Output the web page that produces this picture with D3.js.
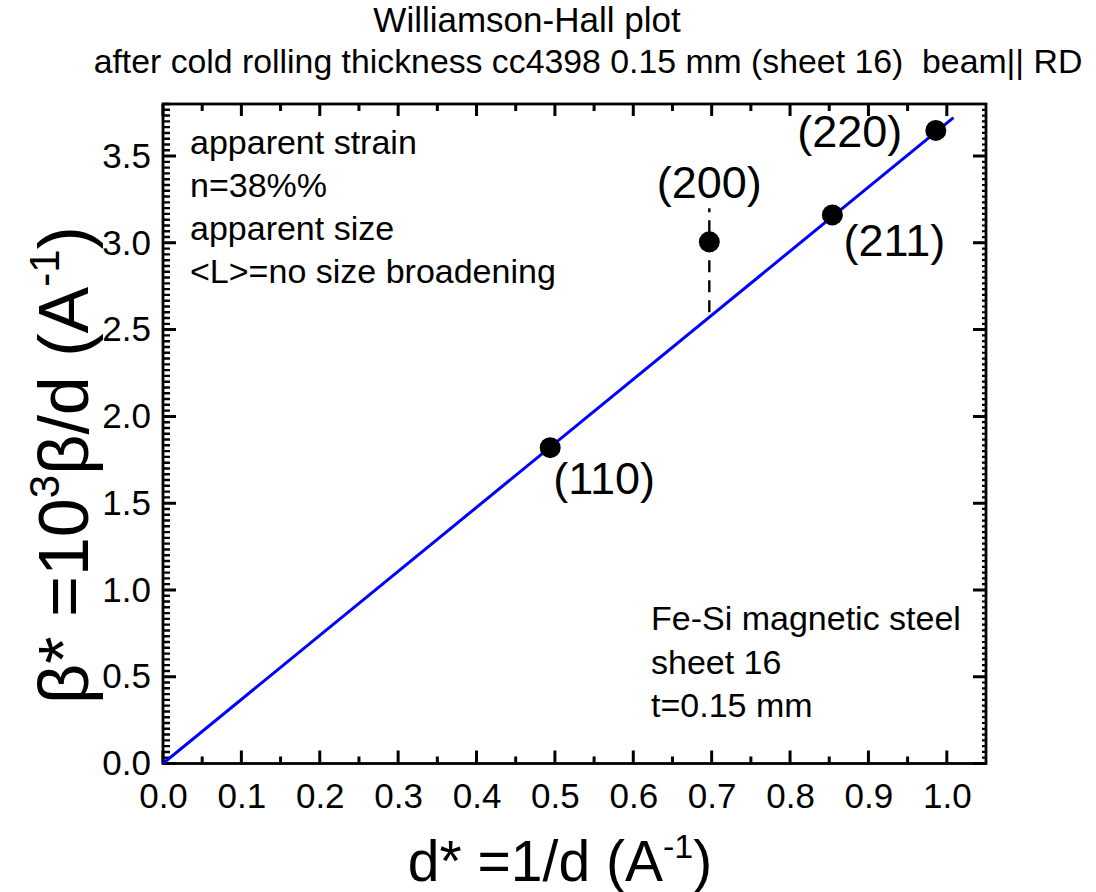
<!DOCTYPE html>
<html>
<head>
<meta charset="utf-8">
<script src="https://cdn.jsdelivr.net/npm/d3@7/dist/d3.min.js"></script>
<style>
  html, body { margin: 0; padding: 0; background: #fff; }
  svg { display: block; font-family: "Liberation Sans", Arial, sans-serif; }
</style>
</head>
<body>
<svg id="chart" width="1096" height="892"></svg>
<script>
// Williamson-Hall data: reflections, d* = 1/d and beta* = 10^3 beta/d
const reflections = ["(110)", "(200)", "(211)", "(220)"];
const dStar = [0.494, 0.697, 0.854, 0.986];
const betaStar = [1.820, 3.006, 3.161, 3.648];

// dashed bar on the (200) reflection
const bar200 = [2.60, 3.20];

// linear fit through the origin
const fitSlope = 3.69;
const fitRange = [0, 1.0085];

// axis ticks
const xTicks = [0.0, 0.1, 0.2, 0.3, 0.4, 0.5, 0.6, 0.7, 0.8, 0.9, 1.0];
const yTicks = [0.0, 0.5, 1.0, 1.5, 2.0, 2.5, 3.0, 3.5];

const titleLines = [
  "Williamson-Hall plot",
  "after cold rolling thickness cc4398 0.15 mm (sheet 16)  beam|| RD"
];
const noteLeft = ["apparent strain", "n=38%%", "apparent size", "<L>=no size broadening"];
const noteRight = ["Fe-Si magnetic steel", "sheet 16", "t=0.15 mm"];

const svg = d3.select("#chart");
const L = 163, R = 986, T = 104, B = 763.5;

const x = d3.scaleLinear().domain([0, 1.05]).range([L, R]);
const y = d3.scaleLinear().domain([0, 3.8]).range([B, T]);

// titles
svg.append("text").attr("x", 527).attr("y", 32).attr("text-anchor", "middle")
  .attr("font-size", 35).text(titleLines[0]);
svg.append("text").attr("x", 588).attr("y", 73).attr("text-anchor", "middle")
  .attr("font-size", 33.8).style("white-space", "pre").text(titleLines[1]);

// minor tick positions
const xMinor = d3.range(0.05, 1.05, 0.1);
const yMinor = d3.range(0, 3.8001, 0.5 / 15).filter(v => Math.abs(v * 2 - Math.round(v * 2)) > 1e-6);

// tick labels via d3 axes
function labelsOnly(g) {
  g.select(".domain").remove();
  g.selectAll(".tick line").remove();
  g.selectAll(".tick text").attr("fill", "#000").attr("font-size", 35)
    .attr("font-family", "Liberation Sans, Arial, sans-serif");
}
svg.append("g").attr("transform", `translate(0,${B})`)
  .call(d3.axisBottom(x).tickValues(xTicks).tickSize(0).tickPadding(20).tickFormat(d3.format(".1f")))
  .call(labelsOnly);
svg.append("g").attr("transform", `translate(${L},0)`)
  .call(d3.axisLeft(y).tickValues(yTicks).tickSize(0).tickPadding(12).tickFormat(d3.format(".1f")))
  .call(labelsOnly);

// inward tick marks on all four sides, each set as one path
function tickPath(vals, horizontal, base, len) {
  const p = d3.path();
  vals.forEach(v => {
    if (horizontal) { p.moveTo(x(v), base); p.lineTo(x(v), base + len); }
    else { p.moveTo(base, y(v)); p.lineTo(base + len, y(v)); }
  });
  return p.toString();
}
const tickSpecs = [
  [xTicks, true, B, -13, 3], [xMinor, true, B, -7, 3],
  [xTicks, true, T, 12, 3], [xMinor, true, T, 7, 3],
  [yTicks, false, L, 13, 3], [yMinor, false, L, 7, 2.4],
  [yTicks, false, R, -13, 3], [yMinor, false, R, -4, 2.2]
];
svg.append("g").selectAll("path").data(tickSpecs).join("path")
  .attr("d", s => tickPath(s[0], s[1], s[2], s[3]))
  .attr("fill", "none").attr("stroke", "#000").attr("stroke-width", s => s[4]);

// frame
svg.append("rect").attr("x", L).attr("y", T).attr("width", R - L).attr("height", B - T)
  .attr("fill", "none").attr("stroke", "#000").attr("stroke-width", 2.8);

// fit line
svg.append("line")
  .attr("x1", x(fitRange[0])).attr("y1", y(fitRange[0] * fitSlope))
  .attr("x2", x(fitRange[1])).attr("y2", y(fitRange[1] * fitSlope))
  .attr("stroke", "#0000ff").attr("stroke-width", 3);

// dashed bar on (200)
svg.append("line")
  .attr("x1", x(dStar[1])).attr("x2", x(dStar[1]))
  .attr("y1", y(bar200[0])).attr("y2", y(bar200[1]))
  .attr("stroke", "#000").attr("stroke-width", 2.4).attr("stroke-dasharray", "12,8");

// data points
svg.append("g").selectAll("circle").data(reflections).join("circle")
  .attr("cx", (d, i) => x(dStar[i])).attr("cy", (d, i) => y(betaStar[i]))
  .attr("r", 10.5).attr("fill", "#000");

// reflection labels
const labelOffsets = [[54, 46], [0, -44], [62, 41], [-86, 17]];
svg.append("g").selectAll("text").data(reflections).join("text")
  .attr("x", (d, i) => x(dStar[i]) + labelOffsets[i][0])
  .attr("y", (d, i) => y(betaStar[i]) + labelOffsets[i][1])
  .attr("text-anchor", "middle").attr("font-size", 45).text(d => d);

// notes
svg.append("g").selectAll("text").data(noteLeft).join("text")
  .attr("x", 190).attr("y", (d, i) => 154 + i * 43)
  .attr("font-size", 34).text(d => d);
svg.append("g").selectAll("text").data(noteRight).join("text")
  .attr("x", 651).attr("y", (d, i) => 630 + i * 43.5)
  .attr("font-size", 34).text(d => d);

// x-axis title
const xt = svg.append("text").attr("x", 560).attr("y", 881).attr("text-anchor", "middle").attr("font-size", 57);
xt.append("tspan").text("d* =1/d (A");
xt.append("tspan").attr("dy", -23).attr("font-size", 34).text("-1");
xt.append("tspan").attr("dy", 23).text(")");

// y-axis title
const yt = svg.append("text").attr("transform", "translate(88,465) rotate(-90)")
  .attr("text-anchor", "middle").attr("font-size", 70);
yt.append("tspan").text("β* =10");
yt.append("tspan").attr("dy", -29).attr("font-size", 42).text("3");
yt.append("tspan").attr("dy", 29).text("β/d (A");
yt.append("tspan").attr("dy", -29).attr("font-size", 42).text("-1");
yt.append("tspan").attr("dy", 29).text(")");
</script>
</body>
</html>
